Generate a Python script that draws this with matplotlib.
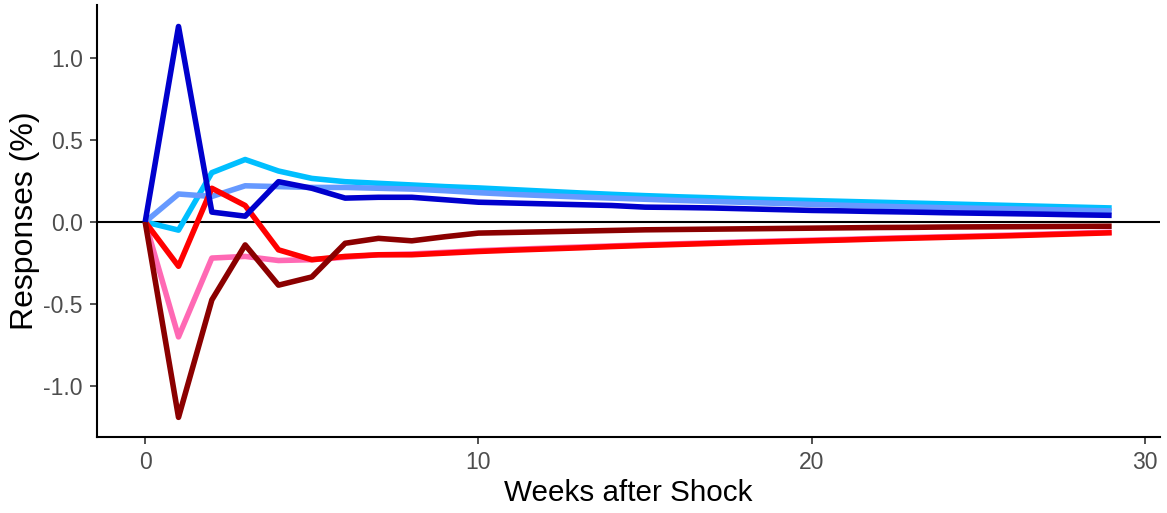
import matplotlib
matplotlib.use("Agg")
import matplotlib.pyplot as plt

# semanas 0..29
semanas = list(range(30))

azul_oscuro = [0, 1.19, 0.06, 0.035, 0.245, 0.205, 0.145, 0.15, 0.15, 0.135,
               0.12, 0.115, 0.11, 0.105, 0.10, 0.09, 0.088, 0.085, 0.08, 0.075,
               0.07, 0.067, 0.063, 0.06, 0.056, 0.053, 0.05, 0.047, 0.043, 0.04]
celeste = [0, -0.05, 0.30, 0.38, 0.31, 0.265, 0.245, 0.235, 0.225, 0.215,
           0.207, 0.197, 0.187, 0.177, 0.168, 0.16, 0.153, 0.147, 0.14, 0.135,
           0.13, 0.125, 0.12, 0.115, 0.11, 0.105, 0.10, 0.095, 0.09, 0.085]
azul_claro = [0, 0.17, 0.155, 0.22, 0.215, 0.21, 0.21, 0.205, 0.2, 0.19,
              0.178, 0.168, 0.16, 0.152, 0.145, 0.138, 0.131, 0.125, 0.119, 0.113,
              0.107, 0.101, 0.096, 0.091, 0.087, 0.083, 0.079, 0.075, 0.071, 0.067]
rojo = [0, -0.27, 0.205, 0.10, -0.17, -0.23, -0.21, -0.2, -0.2, -0.19,
        -0.18, -0.172, -0.165, -0.158, -0.15, -0.143, -0.137, -0.131, -0.125, -0.12,
        -0.115, -0.11, -0.104, -0.099, -0.094, -0.089, -0.084, -0.078, -0.072, -0.066]
rosa = [0, -0.70, -0.22, -0.21, -0.235, -0.23, -0.215, -0.2, -0.195, -0.185,
        -0.175, -0.167, -0.16, -0.153, -0.146, -0.139, -0.133, -0.127, -0.121, -0.116,
        -0.111, -0.106, -0.1, -0.095, -0.09, -0.085, -0.08, -0.074, -0.068, -0.062]
rojo_oscuro = [0, -1.19, -0.475, -0.14, -0.385, -0.335, -0.13, -0.1, -0.115, -0.09,
               -0.068, -0.064, -0.06, -0.056, -0.052, -0.048, -0.046, -0.044, -0.042, -0.04,
               -0.038, -0.036, -0.034, -0.033, -0.031, -0.03, -0.029, -0.028, -0.027, -0.026]

plt.rcParams['font.family'] = ['Liberation Sans', 'DejaVu Sans']

fig = plt.figure(figsize=(11.67, 5.13), dpi=100)
ax = fig.add_axes([0.083, 0.148, 0.911, 0.842])

ax.axhline(0, color='black', lw=1.5, zorder=1)

series = [
    (celeste, '#00BFFF'),
    (rosa, '#FF69B4'),
    (azul_claro, '#6699FF'),
    (rojo, '#FF0000'),
    (rojo_oscuro, '#8B0000'),
    (azul_oscuro, '#0000CD'),
]
for valores, color in series:
    ax.plot(semanas, valores, color=color, lw=4, solid_joinstyle='round',
            solid_capstyle='butt', zorder=2)

ax.set_xlim(-1.45, 30.45)
ax.set_ylim(-1.31, 1.32)
ax.set_xticks([0, 10, 20, 30])
ax.set_yticks([-1.0, -0.5, 0.0, 0.5, 1.0])
ax.set_yticklabels(['-1.0', '-0.5', '0.0', '0.5', '1.0'])

for lado in ['top', 'right']:
    ax.spines[lado].set_visible(False)
for lado in ['left', 'bottom']:
    ax.spines[lado].set_linewidth(1.5)
ax.tick_params(axis='both', length=5, width=1.2, color='#333333', pad=5,
               labelsize=16.5, labelcolor='#4D4D4D')

ax.set_xlabel("Weeks after Shock", fontsize=21.3, va='center')
ax.set_ylabel("Responses (%)", fontsize=23, va='center')
ax.xaxis.set_label_coords(0.5, -0.13)
ax.yaxis.set_label_coords(-0.068, 0.5)

fig.savefig("out.png", dpi=100)
